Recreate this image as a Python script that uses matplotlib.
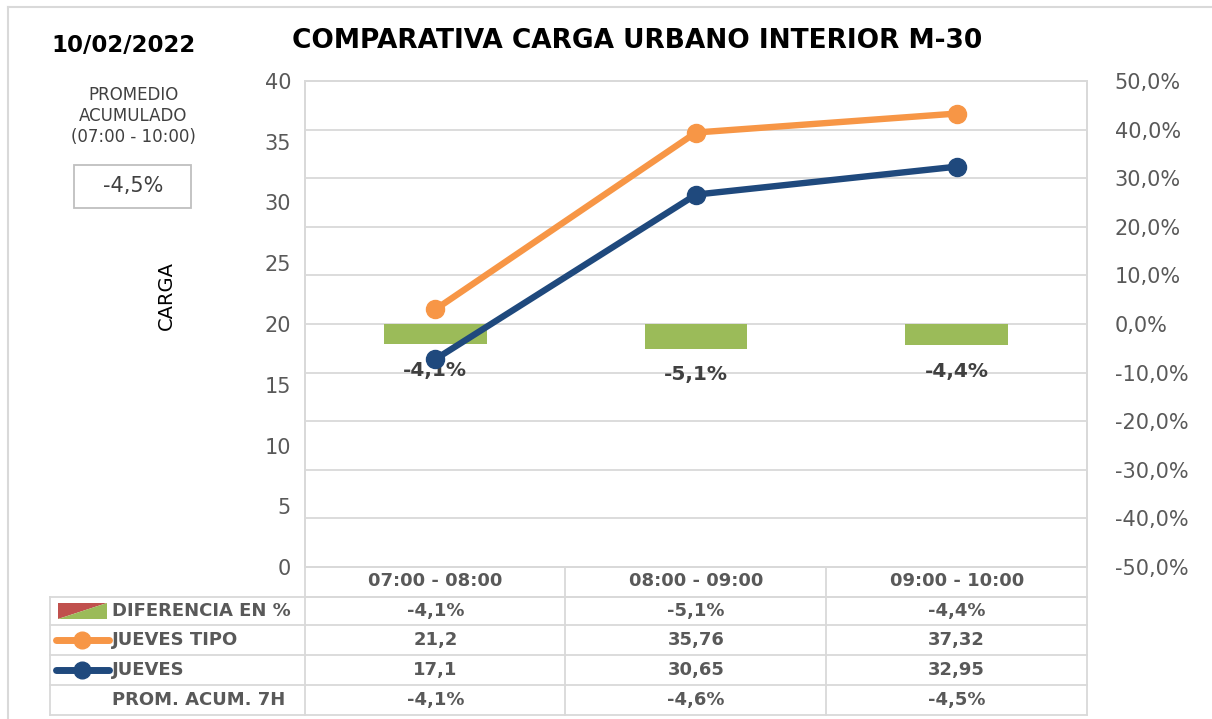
import matplotlib
matplotlib.use("Agg")
import matplotlib.pyplot as plt
import matplotlib.transforms as mtransforms
from matplotlib.lines import Line2D
from matplotlib.patches import Rectangle, Polygon

plt.rcParams['font.family'] = ['DejaVu Sans']

# ---- data ----
categories = ["07:00 - 08:00", "08:00 - 09:00", "09:00 - 10:00"]
jueves_tipo = [21.2, 35.76, 37.32]
jueves = [17.1, 30.65, 32.95]
diferencia = [-4.1, -5.1, -4.4]          # %
prom_acum = [-4.1, -4.6, -4.5]           # %
left_ticks = [0, 5, 10, 15, 20, 25, 30, 35, 40]
right_ticks = [-50, -40, -30, -20, -10, 0, 10, 20, 30, 40, 50]
title = "COMPARATIVA CARGA URBANO INTERIOR M-30"
date_txt = "10/02/2022"
promedio_total = -4.5

ORANGE = "#f79646"
BLUE = "#1f497d"
GREEN = "#9bbb59"
RED = "#c0504d"
GRID = "#d9d9d9"
TXT = "#595959"

W, H = 1212, 719
fig = plt.figure(figsize=(W / 100, H / 100), dpi=100)

def fx(px):
    return px / W

def fy(py):
    return 1 - py / H

def pct(v):
    return f"{v:.1f}%".replace(".", ",")

x0, x1, y0, y1 = 305, 1087, 81, 567
ax = fig.add_axes([fx(x0), fy(y1), fx(x1) - fx(x0), fy(y0) - fy(y1)])
ax2 = ax.twinx()

xs = list(range(len(categories)))

# secondary axis: percent, gridlines and bars
ax2.set_ylim(-50, 50)
ax2.set_yticks(right_ticks)
ax2.set_yticklabels([pct(v) for v in right_ticks])
ax2.yaxis.grid(True, color=GRID, linewidth=1.3)
ax2.bar(xs, diferencia, width=0.395, color=GREEN, zorder=2)
for x, v in zip(xs, diferencia):
    ax2.annotate(pct(v), (x, v), xytext=(0, -12),
                 textcoords="offset points", ha="center", va="top",
                 fontsize=14.5, fontweight="bold", color="#404040", zorder=5)

# primary axis: carga lines
ax.set_ylim(0, 40)
ax.set_yticks(left_ticks)
ax.set_xlim(-0.5, len(categories) - 0.5)
ax.set_xticks([])
ax.set_zorder(ax2.get_zorder() + 1)
ax.patch.set_visible(False)
ax.plot(xs, jueves_tipo, color=ORANGE, linewidth=4.6, marker="o", markersize=13,
        solid_capstyle="round", zorder=4)
ax.plot(xs, jueves, color=BLUE, linewidth=4.6, marker="o", markersize=13,
        solid_capstyle="round", zorder=4)

for a in (ax, ax2):
    for s in a.spines.values():
        s.set_color(GRID)
        s.set_linewidth(1.3)
    a.tick_params(length=0, labelsize=15, labelcolor=TXT)
ax.tick_params(axis="y", pad=10)
ax2.tick_params(axis="y", pad=20)

fig.text(fx(166), fy(296), "CARGA", rotation=90, ha="center", va="center",
         fontsize=14, color="black")

# ---- data table below ----
blend = mtransforms.blended_transform_factory(ax.transData, fig.transFigure)
rows_y = [567, 597, 625, 655, 685, 715]
col_edges = [305, 565, 826, 1087]
lw = 1.3
fig.add_artist(Line2D([fx(x0), fx(x1)], [fy(597), fy(597)], color=GRID, lw=lw))
for ry in rows_y[1:]:
    fig.add_artist(Line2D([fx(50), fx(x1)], [fy(ry), fy(ry)], color=GRID, lw=lw))
for cx in col_edges:
    fig.add_artist(Line2D([fx(cx), fx(cx)], [fy(567), fy(715)], color=GRID, lw=lw))
fig.add_artist(Line2D([fx(50), fx(50)], [fy(597), fy(715)], color=GRID, lw=lw))

for x, c in zip(xs, categories):
    fig.text(x, fy(581), c, transform=blend, ha="center", va="center",
             fontsize=13, fontweight="bold", color=TXT)

row_centers = [611, 640, 670, 700]
row_values = [
    [pct(v) for v in diferencia],
    [f"{v:g}".replace(".", ",") for v in jueves_tipo],
    [f"{v:g}".replace(".", ",") for v in jueves],
    [pct(v) for v in prom_acum],
]
row_labels = ["DIFERENCIA EN %", "JUEVES TIPO", "JUEVES", "PROM. ACUM. 7H"]
for ry, lab, vals in zip(row_centers, row_labels, row_values):
    fig.text(fx(112), fy(ry), lab, ha="left", va="center", fontsize=13,
             fontweight="bold", color=TXT)
    for x, v in zip(xs, vals):
        fig.text(x, fy(ry), v, transform=blend, ha="center", va="center",
                 fontsize=13, fontweight="bold", color=TXT)

# legend keys
fig.add_artist(Polygon([(fx(58), fy(603)), (fx(107), fy(603)), (fx(58), fy(619))],
                       closed=True, facecolor=RED, edgecolor="none"))
fig.add_artist(Polygon([(fx(107), fy(603)), (fx(107), fy(619)), (fx(58), fy(619))],
                       closed=True, facecolor=GREEN, edgecolor="none"))
fig.add_artist(Line2D([fx(56), fx(109)], [fy(640), fy(640)], color=ORANGE, lw=5,
                      solid_capstyle="round"))
fig.add_artist(Line2D([fx(82)], [fy(640)], color=ORANGE, marker="o", markersize=12))
fig.add_artist(Line2D([fx(56), fx(109)], [fy(670), fy(670)], color=BLUE, lw=5,
                      solid_capstyle="round"))
fig.add_artist(Line2D([fx(82)], [fy(670)], color=BLUE, marker="o", markersize=12))

# ---- header texts ----
fig.text(fx(637), fy(41), title, ha="center", va="center", fontsize=19,
         fontweight="bold", color="black")
fig.text(fx(124), fy(46), date_txt, ha="center", va="center", fontsize=16.5,
         fontweight="bold", color="black")
fig.text(fx(133), fy(116), "PROMEDIO\nACUMULADO\n(07:00 - 10:00)", ha="center",
         va="center", fontsize=12, color="#404040", linespacing=1.2)
fig.add_artist(Rectangle((fx(74), fy(208)), fx(191) - fx(74), fy(165) - fy(208),
                         facecolor="white", edgecolor="#bfbfbf", lw=1.3))
fig.text(fx(133), fy(186), pct(promedio_total), ha="center",
         va="center", fontsize=15, color="#404040")

# outer frame (top & left)
fig.add_artist(Line2D([fx(8), fx(1212)], [fy(7), fy(7)], color=GRID, lw=1.5))
fig.add_artist(Line2D([fx(8), fx(8)], [fy(7), fy(719)], color=GRID, lw=1.5))

fig.savefig("out.png", dpi=100)
